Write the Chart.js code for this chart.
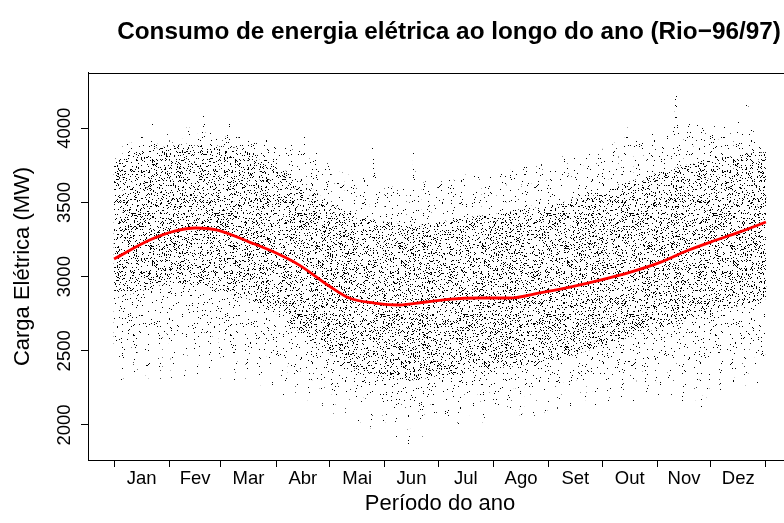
<!DOCTYPE html>
<html lang="pt-BR">
<head>
<meta charset="utf-8">
<title>Consumo de energia elétrica ao longo do ano (Rio−96/97)</title>
<script src="https://cdn.jsdelivr.net/npm/chart.js@4.4.1/dist/chart.umd.min.js"></script>
<style>
  html, body { margin: 0; padding: 0; background: #fff; overflow: hidden; }
  canvas { display: block; }
</style>
</head>
<body>
<canvas id="carga" width="906" height="523"></canvas>
<script>
// Month names and the day on which each month starts (day 0 = 1 Jan)
const monthNames = ['Jan', 'Fev', 'Mar', 'Abr', 'Mai', 'Jun', 'Jul', 'Ago', 'Set', 'Out', 'Nov', 'Dez'];
const monthStartDay = [0, 31, 60, 91, 121, 152, 182, 213, 244, 274, 305, 335, 366];
const loadTicks = [2000, 2500, 3000, 3500, 4000];

// Highest hourly load of each day (MW), one row per week
const dailyMax = [
  3700, 3820, 3850, 3560, 3420, 3880, 3820,
  3900, 3870, 3900, 3600, 3450, 3860, 3920,
  3880, 3950, 3890, 3620, 3480, 3900, 3940,
  4070, 3940, 3910, 3640, 3470, 3930, 3970,
  3970, 3975, 3950, 3650, 3500, 3920, 3890,
  3890, 3960, 3930, 3660, 3510, 3950, 4020,
  3980, 3970, 3940, 3680, 3520, 3960, 3990,
  4000, 4110, 3960, 3670, 3500, 3990, 3950,
  3950, 3930, 3900, 3640, 3480, 3960, 3940,
  4000, 4035, 3980, 3620, 3470, 3950, 3900,
  3990, 4040, 3960, 3610, 3460, 3920, 3940,
  3890, 3920, 3900, 3580, 3440, 3900, 3950,
  3930, 3970, 3870, 3560, 3420, 3880, 3920,
  3920, 3900, 3880, 3540, 3400, 3870, 3890,
  3860, 3900, 3850, 3520, 3380, 3840, 3870,
  3880, 3950, 3830, 3500, 3360, 3820, 3850,
  3820, 3840, 3800, 3460, 3330, 3790, 3800,
  3760, 3780, 3720, 3420, 3300, 3720, 3740,
  3700, 3720, 3680, 3380, 3250, 3660, 3700,
  3650, 3680, 3620, 3340, 3220, 3640, 3660,
  3680, 3640, 3620, 3320, 3200, 3900, 3700,
  3620, 3600, 3580, 3300, 3180, 3600, 3620,
  3600, 3620, 3580, 3280, 3160, 3580, 3620,
  3640, 3600, 3560, 3270, 3150, 3600, 3650,
  3870, 3640, 3600, 3280, 3160, 3620, 3640,
  3600, 3580, 3560, 3260, 3150, 3580, 3600,
  3620, 3640, 3600, 3270, 3150, 3620, 3660,
  3680, 3650, 3620, 3280, 3160, 3640, 3660,
  3700, 3660, 3640, 3290, 3170, 3650, 3680,
  3680, 3700, 3650, 3300, 3180, 3660, 3700,
  3720, 3690, 3660, 3310, 3190, 3680, 3700,
  3700, 3740, 3680, 3320, 3200, 3700, 3720,
  3740, 3720, 3700, 3330, 3210, 3720, 3750,
  3760, 3730, 3700, 3340, 3220, 3710, 3740,
  3750, 3770, 3720, 3350, 3230, 3740, 3760,
  3780, 3760, 3740, 3360, 3240, 3760, 3790,
  3850, 3800, 3760, 3380, 3250, 3780, 3800,
  3810, 3790, 3770, 3390, 3260, 3790, 3820,
  3830, 3800, 3780, 3400, 3270, 3800, 3840,
  3860, 3840, 3820, 3440, 3300, 3850, 3880,
  3900, 3880, 3860, 3460, 3320, 3900, 3930,
  4020, 3950, 3900, 3480, 3340, 3920, 3960,
  3980, 3950, 3920, 3500, 3360, 3940, 3980,
  4000, 3970, 3940, 3520, 3380, 3960, 3990,
  4020, 4000, 3960, 3540, 3400, 3990, 4030,
  4240, 4060, 4000, 3560, 3420, 4010, 4050,
  4050, 4080, 4020, 3570, 3430, 4020, 4060,
  4000, 4040, 3990, 3560, 3420, 4000, 4030,
  4020, 4010, 3980, 3570, 3440, 3990, 4020,
  4040, 4020, 3990, 3580, 3450, 4010, 4050,
  4060, 4030, 4000, 3600, 3460, 4290, 4040,
  4000, 3980, 3950, 3580, 3440, 3900, 3850,
  3900, 3880
];

// Lowest hourly load of each day (MW), one row per week
const dailyMin = [
  2500, 2560, 2540, 2440, 2240, 2340, 2560,
  2570, 2550, 2580, 2460, 2260, 2360, 2550,
  2560, 2590, 2570, 2470, 2280, 2380, 2590,
  2600, 2580, 2570, 2480, 2300, 2390, 2600,
  2610, 2620, 2600, 2500, 2320, 2410, 2620,
  2630, 2610, 2620, 2500, 2330, 2420, 2640,
  2640, 2630, 2620, 2510, 2340, 2420, 2630,
  2620, 2650, 2610, 2500, 2330, 2410, 2620,
  2600, 2610, 2590, 2480, 2310, 2400, 2600,
  2560, 2570, 2540, 2450, 2300, 2380, 2560,
  2540, 2550, 2520, 2430, 2290, 2360, 2530,
  2500, 2510, 2490, 2400, 2270, 2340, 2500,
  2470, 2480, 2460, 2380, 2250, 2320, 2470,
  2430, 2420, 2400, 2330, 2200, 2280, 2420,
  2400, 2390, 2370, 2300, 2170, 2250, 2380,
  2360, 2370, 2350, 2280, 2150, 2230, 2360,
  2330, 2320, 2310, 2250, 2120, 2200, 2320,
  2290, 2280, 2270, 2210, 2080, 2160, 2270,
  2250, 2240, 2230, 2170, 2040, 2120, 2240,
  2220, 2210, 2200, 2140, 2010, 2090, 2210,
  2190, 2180, 2170, 2120, 1980, 2070, 2180,
  2170, 2160, 2150, 2100, 1950, 2050, 2160,
  2150, 2140, 2130, 2080, 1920, 2030, 2140,
  2140, 2130, 2120, 2070, 1870, 2010, 2130,
  2150, 2140, 2130, 2080, 1910, 2020, 2150,
  2170, 2160, 2150, 2090, 1950, 2040, 2160,
  2190, 2180, 2170, 2110, 1980, 2060, 2190,
  2200, 2190, 2180, 2120, 2000, 2070, 2200,
  2210, 2200, 2190, 2130, 2010, 2080, 2210,
  2220, 2210, 2200, 2140, 2020, 2090, 2220,
  2230, 2220, 2210, 2150, 2030, 2100, 2230,
  2240, 2250, 2230, 2160, 2040, 2110, 2250,
  2260, 2250, 2240, 2170, 2050, 2120, 2260,
  2270, 2260, 2250, 2180, 2060, 2130, 2270,
  2280, 2270, 2260, 2190, 2070, 2140, 2280,
  2290, 2280, 2270, 2200, 2080, 2150, 2290,
  2300, 2290, 2280, 2210, 2090, 2160, 2300,
  2310, 2300, 2290, 2220, 2100, 2170, 2310,
  2320, 2310, 2300, 2230, 2110, 2180, 2320,
  2340, 2330, 2320, 2250, 2130, 2200, 2340,
  2360, 2350, 2340, 2270, 2150, 2220, 2360,
  2380, 2370, 2360, 2280, 2160, 2230, 2380,
  2390, 2380, 2370, 2290, 2170, 2240, 2390,
  2400, 2390, 2380, 2300, 2180, 2250, 2400,
  2410, 2400, 2390, 2310, 2160, 2260, 2410,
  2420, 2410, 2400, 2320, 2150, 2250, 2420,
  2430, 2420, 2410, 2330, 2170, 2270, 2430,
  2080, 2430, 2420, 2330, 2180, 2280, 2440,
  2470, 2460, 2450, 2370, 2230, 2310, 2480,
  2490, 2480, 2470, 2390, 2250, 2330, 2500,
  2510, 2500, 2490, 2410, 2270, 2350, 2520,
  2500, 2490, 2480, 2400, 2280, 2340, 2380,
  2450, 2480
];

// Band where most of the hourly readings fall (MW)
const bandDays = [0, 15, 31, 45, 60, 75, 91, 105, 121, 135, 152, 166, 182, 197, 213, 228, 244, 258, 274, 289, 305, 320, 335, 350, 366];
const bandLow  = [2850, 2900, 2950, 2950, 2900, 2850, 2750, 2620, 2480, 2380, 2320, 2300, 2330, 2350, 2380, 2400, 2430, 2470, 2530, 2590, 2650, 2700, 2750, 2800, 2850];
const bandHigh = [3780, 3850, 3880, 3900, 3880, 3850, 3750, 3650, 3500, 3420, 3370, 3350, 3370, 3400, 3420, 3450, 3480, 3520, 3580, 3640, 3700, 3750, 3790, 3820, 3840];

// Smoothed seasonal curve (MW)
const trendDays = [0, 20, 34, 46, 58, 76, 91, 104, 121, 132, 146, 160, 175, 189, 205, 222, 239, 256, 273, 290, 307, 320, 335, 351, 366];
const trendLoad = [3119, 3247, 3307, 3328, 3314, 3233, 3159, 3078, 2935, 2856, 2822, 2809, 2829, 2849, 2856, 2856, 2890, 2930, 2977, 3031, 3098, 3166, 3233, 3300, 3368];

// ---- stipple fills used to shade the point cloud ----
const canvas = document.getElementById('carga');
const mainCtx = canvas.getContext('2d');

function mixBits(n) {
  n = Math.imul(n ^ (n >>> 16), 0x45d9f3b);
  n = Math.imul(n ^ (n >>> 16), 0x45d9f3b);
  return (n ^ (n >>> 16)) >>> 0;
}
function stipple(w, h, count, seed) {
  const tile = document.createElement('canvas');
  tile.width = w; tile.height = h;
  const g = tile.getContext('2d');
  g.fillStyle = '#000';
  for (let i = 0; i < count; i++) {
    const px = mixBits(i * 2 + 1 + seed) % w;
    const py = mixBits(i * 2 + 2 + seed * 31) % h;
    g.fillRect(px, py, 1, 1);
  }
  return mainCtx.createPattern(tile, 'repeat');
}
const sparseDots = stipple(97, 89, 330, 11);
const denseDots = stipple(83, 101, 930, 977);

// ---- datasets ----
const dayRanges = dailyMax.map((hi, d) => ({ x: d + 0.5, y: [dailyMin[d], hi] }));
const bandTop = bandDays.map((d, i) => ({ x: d, y: bandHigh[i] }));
const bandBottom = bandDays.map((d, i) => ({ x: d, y: bandLow[i] }));
const trend = trendDays.map((d, i) => ({ x: d, y: trendLoad[i] }));

// x ticks: month boundaries carry the tick marks, month middles carry the names
const xTicks = [];
const xTickText = [];
for (let m = 0; m < 12; m++) {
  xTicks.push(monthStartDay[m]); xTickText.push('');
  xTicks.push((monthStartDay[m] + monthStartDay[m + 1]) / 2); xTickText.push(monthNames[m]);
}
xTicks.push(monthStartDay[12]); xTickText.push('');

const framePlugin = {
  id: 'frame',
  afterDraw(chart) {
    const { ctx, chartArea: a } = chart;
    ctx.save();
    ctx.strokeStyle = '#000';
    ctx.lineWidth = 1;
    ctx.strokeRect(Math.round(a.left) + 0.5, Math.round(a.top) + 0.5,
                   Math.round(a.right - a.left), Math.round(a.bottom - a.top));
    ctx.restore();
  }
};

Chart.defaults.font.family = "'Liberation Sans', Arial, Helvetica, sans-serif";
Chart.defaults.color = '#000';

new Chart(canvas, {
  type: 'bar',
  data: {
    datasets: [
      {
        type: 'line',
        label: 'Tendência',
        data: trend,
        borderColor: '#ff0000',
        borderWidth: 2.8,
        pointRadius: 0,
        fill: false,
        cubicInterpolationMode: 'monotone',
        order: 0
      },
      {
        type: 'line',
        label: 'Faixa superior',
        data: bandTop,
        borderWidth: 0,
        borderColor: 'rgba(0,0,0,0)',
        pointRadius: 0,
        fill: false,
        cubicInterpolationMode: 'monotone',
        order: 2
      },
      {
        type: 'line',
        label: 'Faixa inferior',
        data: bandBottom,
        borderWidth: 0,
        borderColor: 'rgba(0,0,0,0)',
        backgroundColor: denseDots,
        pointRadius: 0,
        fill: 1,
        cubicInterpolationMode: 'monotone',
        order: 1
      },
      {
        label: 'Carga horária',
        data: dayRanges,
        backgroundColor: sparseDots,
        borderWidth: 0,
        barPercentage: 1,
        categoryPercentage: 1,
        order: 3
      }
    ]
  },
  options: {
    responsive: false,
    animation: false,
    events: [],
    layout: { padding: { top: 0, left: 0, right: 8, bottom: 0 } },
    plugins: {
      legend: { display: false },
      tooltip: { enabled: false },
      title: {
        display: true,
        text: 'Consumo de energia elétrica ao longo do ano (Rio−96/97)',
        fullSize: true,
        color: '#000',
        font: { size: 24.3, weight: 'bold', lineHeight: 1.2 },
        padding: { top: 18, bottom: 25.8 }
      }
    },
    scales: {
      x: {
        type: 'linear',
        min: -14.64,
        max: 380.64,
        offset: false,
        afterBuildTicks: (s) => { s.ticks = xTicks.map(v => ({ value: v })); },
        afterFit: (s) => { s.height = 63; },
        ticks: {
          autoSkip: false,
          maxRotation: 0,
          minRotation: 0,
          padding: 1,
          font: { size: 18.5 },
          color: '#000',
          callback: (v, i) => xTickText[i]
        },
        grid: {
          drawOnChartArea: false,
          offset: false,
          tickLength: 7,
          tickWidth: 1,
          tickColor: (c) => (c.index % 2 === 0 ? '#000' : 'rgba(0,0,0,0)')
        },
        border: { display: true, color: '#000', width: 1 },
        title: {
          display: true,
          text: 'Período do ano',
          color: '#000',
          font: { size: 22, lineHeight: 1.2 },
          padding: { top: 0, bottom: 5.5 }
        }
      },
      y: {
        type: 'linear',
        min: 1764,
        max: 4373,
        afterBuildTicks: (s) => { s.ticks = loadTicks.map(v => ({ value: v })); },
        afterFit: (s) => { s.width = 88; },
        ticks: {
          minRotation: 90,
          maxRotation: 90,
          crossAlign: 'center',
          padding: -4,
          font: { size: 18.5 },
          color: '#000',
          callback: (v) => String(v)
        },
        grid: {
          drawOnChartArea: false,
          tickLength: 7,
          tickWidth: 1,
          tickColor: '#000'
        },
        border: { display: true, color: '#000', width: 1 },
        title: {
          display: true,
          text: 'Carga Elétrica (MW)',
          color: '#000',
          font: { size: 22, lineHeight: 1.2 },
          padding: { top: 9.5, bottom: 0 }
        }
      },
      // empty margin on the right of the plotting region
      margem: {
        type: 'linear',
        axis: 'y',
        position: 'right',
        display: true,
        afterFit: (s) => { s.width = 106; },
        ticks: { display: false },
        grid: { display: false, drawTicks: false },
        border: { display: false }
      }
    }
  },
  plugins: [framePlugin]
});
</script>
</body>
</html>
